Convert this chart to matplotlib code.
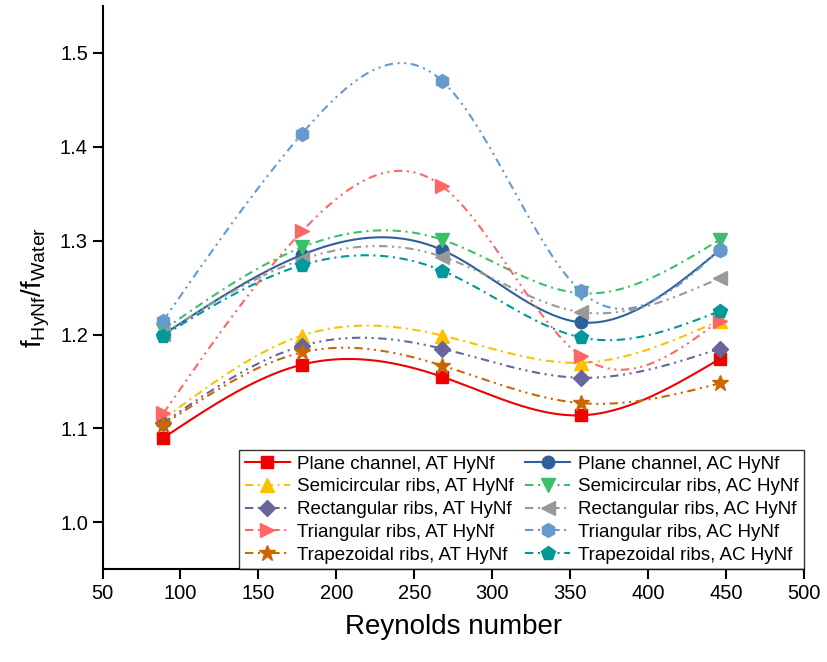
import numpy as np
import matplotlib
matplotlib.use("Agg")
import matplotlib.pyplot as plt

plt.rcParams['font.family'] = ['Liberation Sans', 'DejaVu Sans']
plt.rcParams['mathtext.fontset'] = 'custom'
plt.rcParams['mathtext.rm'] = 'Liberation Sans'
plt.rcParams['mathtext.it'] = 'Liberation Sans:italic'

re_num = [89, 178, 268, 357, 446]

plane_at = [1.090, 1.168, 1.155, 1.114, 1.174]
plane_ac = [1.200, 1.285, 1.290, 1.213, 1.290]
semi_at = [1.110, 1.199, 1.199, 1.170, 1.215]
semi_ac = [1.205, 1.293, 1.301, 1.244, 1.301]
rect_at = [1.106, 1.188, 1.185, 1.154, 1.185]
rect_ac = [1.201, 1.280, 1.283, 1.224, 1.260]
tri_at = [1.116, 1.310, 1.358, 1.177, 1.215]
tri_ac = [1.215, 1.414, 1.470, 1.246, 1.290]
trap_at = [1.104, 1.181, 1.167, 1.127, 1.148]
trap_ac = [1.199, 1.274, 1.268, 1.197, 1.225]

labels = ["Plane channel, AT HyNf", "Plane channel, AC HyNf",
          "Semicircular ribs, AT HyNf", "Semicircular ribs, AC HyNf",
          "Rectangular ribs, AT HyNf", "Rectangular ribs, AC HyNf",
          "Triangular ribs, AT HyNf", "Triangular ribs, AC HyNf",
          "Trapezoidal ribs, AT HyNf", "Trapezoidal ribs, AC HyNf"]
series = [plane_at, plane_ac, semi_at, semi_ac, rect_at, rect_ac,
          tri_at, tri_ac, trap_at, trap_ac]


def natural_spline(x, y, xs):
    # natural cubic spline through the points, for the smooth curves
    x = np.asarray(x, float)
    y = np.asarray(y, float)
    n = len(x)
    h = np.diff(x)
    A = np.zeros((n, n))
    b = np.zeros(n)
    A[0, 0] = A[-1, -1] = 1
    for i in range(1, n - 1):
        A[i, i - 1] = h[i - 1]
        A[i, i] = 2 * (h[i - 1] + h[i])
        A[i, i + 1] = h[i]
        b[i] = 3 * ((y[i + 1] - y[i]) / h[i] - (y[i] - y[i - 1]) / h[i - 1])
    c = np.linalg.solve(A, b)
    out = np.empty_like(xs)
    for k, xv in enumerate(xs):
        i = min(max(np.searchsorted(x, xv) - 1, 0), n - 2)
        dx = xv - x[i]
        bi = (y[i + 1] - y[i]) / h[i] - h[i] * (2 * c[i] + c[i + 1]) / 3
        di = (c[i + 1] - c[i]) / (3 * h[i])
        out[k] = y[i] + bi * dx + c[i] * dx ** 2 + di * dx ** 3
    return out


dd = (0, (4, 2.2, 1, 2.2, 1, 2.2))
dot = (0, (4, 2.2, 1, 2.2))
styles = [
    ('#F00000', 's', 9, '-'),
    ('#30609A', 'o', 9, '-'),
    ('#FFC000', '^', 10, dot),
    ('#3CBF6A', 'v', 10, dot),
    ('#66669A', 'D', 8, dd),
    ('#999999', '<', 10, dd),
    ('#FF6666', '>', 10, dd),
    ('#6699CC', 'h', 10, dd),
    ('#CC6600', '*', 12, dd),
    ('#009999', 'p', 10, dot),
]

fig = plt.figure(figsize=(8.27, 6.62), dpi=100)
ax = fig.add_axes([0.124, 0.14, 0.848, 0.851])

xs = np.linspace(re_num[0], re_num[-1], 300)
handles = []
for vals, lab, (col, mk, ms, ls) in zip(series, labels, styles):
    ys = natural_spline(re_num, vals, xs)
    ax.plot(xs, ys, color=col, ls=ls, lw=1.5)
    ax.plot(re_num, vals, color=col, ls='none', marker=mk, ms=ms)
    h, = ax.plot([], [], color=col, ls=ls, lw=1.5, marker=mk, ms=ms, label=lab)
    handles.append(h)

ax.set_xlim(50, 500)
ax.set_ylim(0.95, 1.55)
ax.set_xticks(np.arange(50, 501, 50))
ax.set_yticks([1.0, 1.1, 1.2, 1.3, 1.4, 1.5])
ax.yaxis.set_major_formatter(matplotlib.ticker.FormatStrFormatter('%.1f'))
ax.spines['top'].set_visible(False)
ax.spines['right'].set_visible(False)
for s in ['left', 'bottom']:
    ax.spines[s].set_linewidth(1.5)
ax.tick_params(direction='out', length=7, width=1.5, labelsize=14.5)

ax.set_xlabel("Reynolds number", fontsize=20, labelpad=8)
ax.set_ylabel(r"f$_{\mathrm{HyNf}}$/f$_{\mathrm{Water}}$", fontsize=20, labelpad=6)

# row-major legend: AT entries in first column, AC in second
order = [0, 2, 4, 6, 8, 1, 3, 5, 7, 9]
leg = ax.legend([handles[i] for i in order], [labels[i] for i in order],
                ncol=2, loc='lower right', bbox_to_anchor=(1.0, 0.0),
                borderaxespad=0, fontsize=13.5, handlelength=2.4,
                labelspacing=0.3, columnspacing=0.6, handletextpad=0.4,
                fancybox=False, edgecolor='black', borderpad=0.3)
leg.get_frame().set_linewidth(1.0)

fig.savefig("out.png", dpi=100)
